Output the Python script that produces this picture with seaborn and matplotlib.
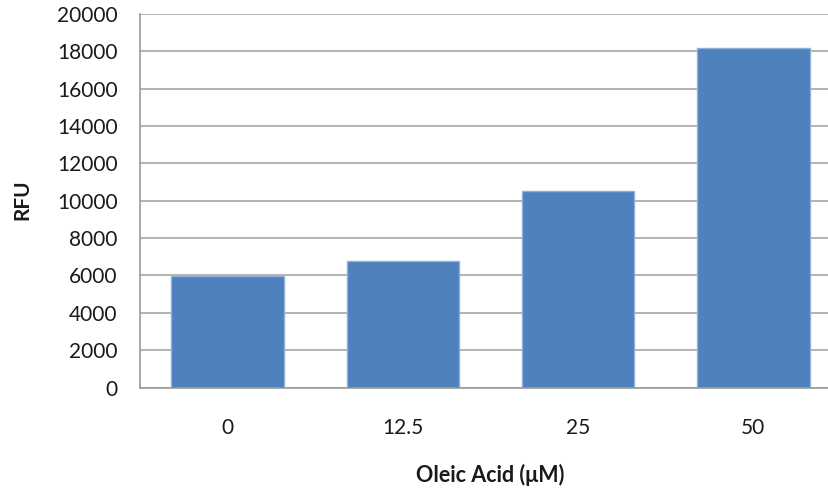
import matplotlib
matplotlib.use("Agg")
import matplotlib.pyplot as plt
import seaborn as sns
import pandas as pd

categories = ["0", "12.5", "25", "50"]
rfu = [5960, 6760, 10520, 18160]
y_ticks = [0, 2000, 4000, 6000, 8000, 10000, 12000, 14000, 16000, 18000, 20000]

df = pd.DataFrame({"conc": categories, "rfu": rfu})

sns.set_theme(style="white")
plt.rcParams["font.family"] = ["Lato", "DejaVu Sans"]

fig = plt.figure(figsize=(8.29, 4.90), dpi=100)
W, H = 829, 490
ax = fig.add_axes([140 / W, 1 - 387.5 / H, (841 - 140) / W, (387.5 - 14) / H])

sns.barplot(data=df, x="conc", y="rfu", order=categories, color="#4F81BD",
            saturation=1, width=0.642, edgecolor="#8EB0DB", linewidth=1.0, ax=ax)

ax.set_ylim(0, 20000)
ax.set_xlim(-0.5, 3.5)
ax.set_yticks(y_ticks)
ax.set_yticklabels([str(v) for v in y_ticks])
ax.yaxis.grid(True, color="#B3B3B3", linewidth=1.4)
ax.set_axisbelow(True)
for s in ["top", "right"]:
    ax.spines[s].set_visible(False)
for s in ["left", "bottom"]:
    ax.spines[s].set_color("#9A9A9A")
    ax.spines[s].set_linewidth(1.2)
ax.tick_params(axis="both", length=0, labelsize=15, colors="#1a1a1a")
ax.tick_params(axis="y", pad=16)
ax.tick_params(axis="x", pad=22)

ax.set_xlabel("")
ax.set_ylabel("")
fig.text(22 / W, 1 - 200 / H, "RFU", rotation=90, ha="center", va="center",
         fontsize=15, fontweight="bold", color="#1a1a1a")
fig.text(490 / W, 1 - 475 / H, "Oleic Acid (\u03bcM)", ha="center", va="center",
         fontsize=15.5, fontweight="bold", color="#1a1a1a")

fig.savefig("out.png", dpi=100)
